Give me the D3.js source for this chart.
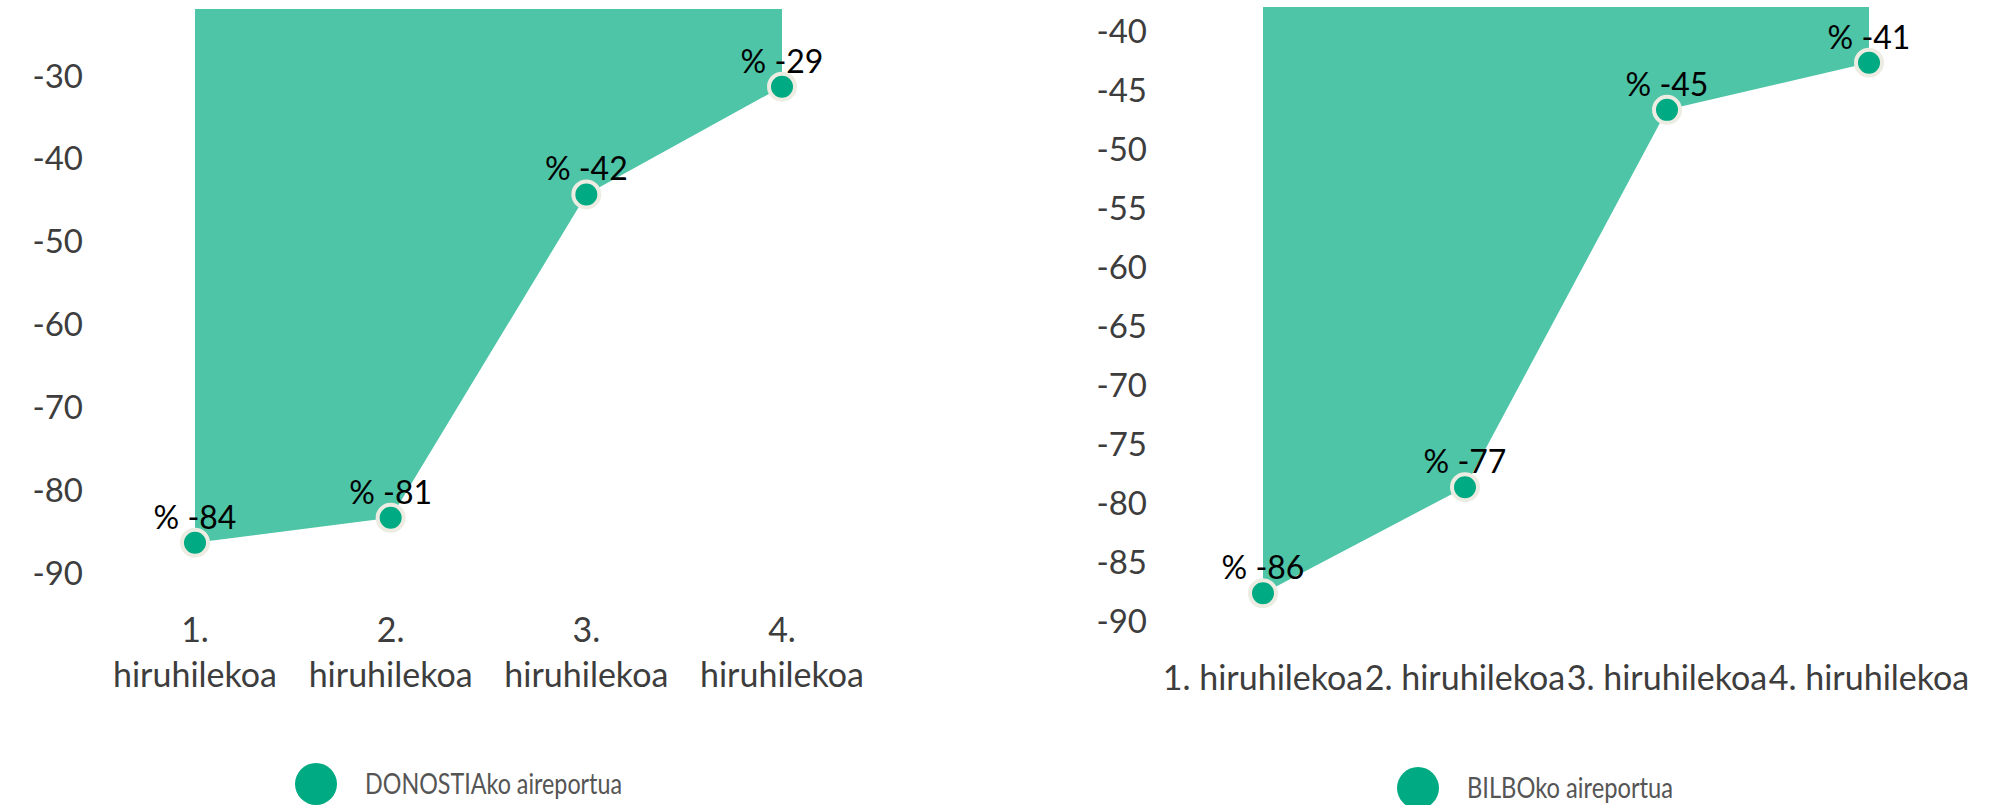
<!DOCTYPE html>
<html>
<head>
<meta charset="utf-8">
<script src="https://cdn.jsdelivr.net/npm/d3@7"></script>
<style>
  body { margin: 0; background: #fff; }
  svg { display: block; }
  text { font-family: Lato, "Noto Sans", sans-serif; }
</style>
</head>
<body>
<svg width="2007" height="805"></svg>
<script>
// data
var quarters = ["1. hiruhilekoa", "2. hiruhilekoa", "3. hiruhilekoa", "4. hiruhilekoa"];
var donostiaValues = [-84, -81, -42, -29];
var bilboValues = [-86, -77, -45, -41];
var donostiaTicks = [-30, -40, -50, -60, -70, -80, -90];
var bilboTicks = [-40, -45, -50, -55, -60, -65, -70, -75, -80, -85, -90];
var seriesNames = ["DONOSTIAko aireportua", "BILBOko aireportua"];

var areaColor = "#4ec5a7";
var dotColor = "#00aa82";
var dotRing = "#ecece2";
var axisText = "#3d3d3d";

var svg = d3.select("svg");

var drawPanel = function(opt) {
  var g = svg.append("g");

  var x = d3.scalePoint().domain(quarters).range(opt.xRange);
  var y = d3.scaleLinear().domain(opt.yDomain).range(opt.yRange);

  var clipId = "clip" + opt.id;
  svg.append("clipPath").attr("id", clipId)
    .append("rect")
    .attr("x", opt.xRange[0] - 40).attr("y", opt.plotTop)
    .attr("width", opt.xRange[1] - opt.xRange[0] + 80)
    .attr("height", opt.yRange[1] - opt.plotTop + 40);

  // y axis labels, sitting a little above their value; plain hyphen minus
  var yAxis = g.append("g")
    .attr("transform", "translate(" + opt.labelX + ",0)")
    .call(d3.axisLeft(y).tickValues(opt.ticks).tickSize(0).tickPadding(0)
      .tickFormat(function(d) { return String(d); }));
  yAxis.select(".domain").remove();
  yAxis.selectAll("text")
    .attr("dy", null)
    .attr("y", -8)
    .attr("fill", axisText)
    .style("font-size", "33px")
    .style("font-family", "Lato, sans-serif");

  // area from the line up to zero (clipped at the plot top)
  var area = d3.area()
    .x(function(d, i) { return x(quarters[i]); })
    .y0(y(0))
    .y1(function(d) { return y(d); });

  g.append("path")
    .datum(opt.values)
    .attr("clip-path", "url(#" + clipId + ")")
    .attr("d", area)
    .attr("fill", areaColor);

  g.selectAll(".dot")
    .data(opt.values)
    .join("circle")
    .attr("class", "dot")
    .attr("cx", function(d, i) { return x(quarters[i]); })
    .attr("cy", function(d) { return y(d); })
    .attr("r", 13)
    .attr("fill", dotColor)
    .attr("stroke", dotRing)
    .attr("stroke-width", 4);

  g.selectAll(".lbl")
    .data(opt.values)
    .join("text")
    .attr("class", "lbl")
    .attr("x", function(d, i) { return x(quarters[i]); })
    .attr("y", function(d) { return y(d) - 14; })
    .attr("text-anchor", "middle")
    .attr("fill", "#000")
    .style("font-size", "32px")
    .text(function(d) { return "% " + d; });

  // category labels
  var xl = g.selectAll(".xl")
    .data(quarters)
    .join("text")
    .attr("class", "xl")
    .attr("text-anchor", "middle")
    .attr("fill", axisText)
    .style("font-size", "34px");
  if (opt.wrap) {
    xl.each(function(d) {
      var parts = d.split(" ");
      var t = d3.select(this);
      parts.forEach(function(p, i) {
        t.append("tspan")
          .attr("x", x(d))
          .attr("y", opt.xLabelY + i * 45)
          .text(p);
      });
    });
  } else {
    xl.attr("x", function(d) { return x(d); })
      .attr("y", opt.xLabelY)
      .text(function(d) { return d; });
  }

  // legend
  var lg = g.append("g").attr("transform", "translate(" + opt.legendX + "," + opt.legendY + ")");
  lg.append("circle").attr("r", 21).attr("fill", dotColor);
  lg.append("text")
    .attr("x", 49)
    .attr("y", 10)
    .attr("fill", "#555")
    .style("font-size", "28px")
    .attr("textLength", opt.legendWidth)
    .attr("lengthAdjust", "spacingAndGlyphs")
    .text(opt.name);
};

drawPanel({
  id: 0,
  values: donostiaValues,
  ticks: donostiaTicks,
  name: seriesNames[0],
  xRange: [195, 782],
  yDomain: [-20, -90],
  yRange: [12.1, 592.4],
  plotTop: 9,
  labelX: 83,
  wrap: true,
  xLabelY: 642,
  legendX: 316,
  legendY: 784,
  legendWidth: 257
});

drawPanel({
  id: 1,
  values: bilboValues,
  ticks: bilboTicks,
  name: seriesNames[1],
  xRange: [1263, 1869],
  yDomain: [-40, -90],
  yRange: [50.9, 640.5],
  plotTop: 7,
  labelX: 1147,
  wrap: false,
  xLabelY: 690,
  legendX: 1418,
  legendY: 788,
  legendWidth: 206
});
</script>
</body>
</html>
